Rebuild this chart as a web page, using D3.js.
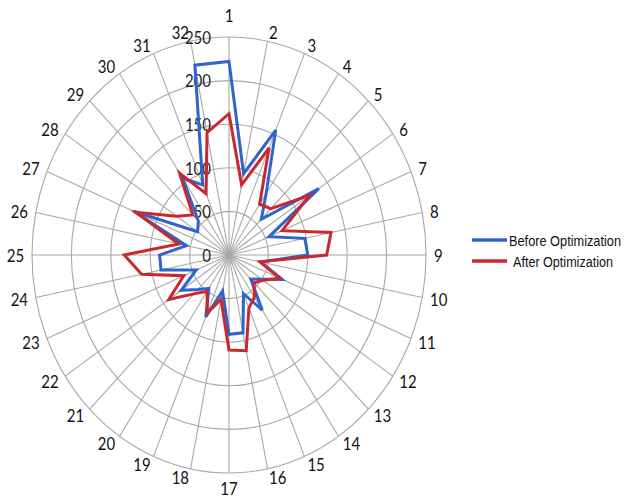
<!DOCTYPE html>
<html><head><meta charset="utf-8">
<script src="https://cdn.jsdelivr.net/npm/d3@7"></script>
<style>html,body{margin:0;padding:0;background:#fff;} svg{display:block;}</style>
</head><body>
<svg id="chart" width="624" height="501"></svg>
<script>
const categories = ["1","2","3","4","5","6","7","8","9","10","11","12","13","14","15","16",
                    "17","18","19","20","21","22","23","24","25","26","27","28","29","30","31","32"];
const seriesNames = ["Before Optimization", "After Optimization"];
const beforeValues = [222,95,155,85,58,137,55,98,100,41,73,50,39,76,48,91,
                      91,42,77,46,56,73,45,88,88,55,131,48,55,106,87,222];
const afterValues  = [162,82,133,70,75,123,73,132,124,40,70,52,45,58,66,112,
                      109,52,72,50,63,92,62,113,133,65,128,80,65,113,76,143];
const tickValues = [0,50,100,150,200,250];
const seriesColors = ["#2f64cc", "#c8282e"];

const cx = 229, cy = 255, RX = 197, RY = 218, maxV = 250, labelV = 260;
const svg = d3.select("#chart");
svg.append("rect").attr("width",624).attr("height",501).attr("fill","#fff");

const rx = d3.scaleLinear().domain([0, maxV]).range([0, RX]);
const ry = d3.scaleLinear().domain([0, maxV]).range([0, RY]);
const angle = d3.scaleLinear().domain([0, categories.length]).range([0, 2*Math.PI]);
const px = (i, v) => cx + rx(v) * Math.sin(angle(i));
const py = (i, v) => cy - ry(v) * Math.cos(angle(i));

const grid = svg.append("g").attr("stroke","#a8a8a8").attr("fill","none").attr("stroke-width",1.1);
grid.selectAll("ellipse").data(tickValues.filter(v => v > 0)).join("ellipse")
  .attr("cx", cx).attr("cy", cy).attr("rx", d => rx(d)).attr("ry", d => ry(d));
grid.selectAll("line").data(categories).join("line")
  .attr("x1", cx).attr("y1", cy)
  .attr("x2", (d,i) => px(i, maxV)).attr("y2", (d,i) => py(i, maxV));

const labelFont = "Lato, 'Open Sans', sans-serif";
// tick labels
svg.append("g").selectAll("text").data(tickValues).join("text")
  .attr("transform", d => `translate(211,${cy - ry(d)}) scale(1,1.1)`)
  .attr("text-anchor","end").attr("dominant-baseline","central")
  .attr("font-family", labelFont).attr("font-size", 15).attr("fill","#222")
  .text(d => d);

// category labels: anchored outside the outer ring
svg.append("g").selectAll("text").data(categories).join("text")
  .each(function(d, i) {
    const s = Math.sin(angle(i)), c = Math.cos(angle(i));
    let x = px(i, labelV), y = py(i, labelV), anchor = "middle", base = "central";
    if (s > 0.01) anchor = "start";
    else if (s < -0.01) anchor = "end";
    else if (c > 0) { base = "auto"; y -= 6; }
    else { base = "hanging"; }
    d3.select(this)
      .attr("transform", `translate(${x},${y}) scale(1,1.1)`)
      .attr("text-anchor", anchor).attr("dominant-baseline", base);
  })
  .attr("font-family", labelFont).attr("font-size", 15).attr("fill","#111")
  .text(d => d);

// series
const line = d3.line().x(d => px(d.i, d.v)).y(d => py(d.i, d.v)).curve(d3.curveLinearClosed);
[beforeValues, afterValues].forEach((vals, s) => {
  svg.append("path")
    .datum(vals.map((v, i) => ({i, v})))
    .attr("d", line)
    .attr("fill","none").attr("stroke", seriesColors[s])
    .attr("stroke-width", 3).attr("stroke-linejoin","miter");
});

// legend
const legendFont = "'Liberation Sans', Arial, sans-serif";
const legendY = [240, 261];
const legendTextX = [509, 513];
const legendLen = [112, 100];
seriesNames.forEach((name, s) => {
  svg.append("line").attr("x1",472).attr("x2",507).attr("y1",legendY[s]).attr("y2",legendY[s])
    .attr("stroke", seriesColors[s]).attr("stroke-width",3.5);
  svg.append("text")
    .attr("transform", `translate(${legendTextX[s]},${legendY[s] + 6}) scale(1,1.2)`)
    .attr("font-family", legendFont).attr("font-size", 12.8).attr("fill","#111")
    .attr("textLength", legendLen[s]).attr("lengthAdjust","spacingAndGlyphs")
    .text(name);
});
</script>
</body></html>
